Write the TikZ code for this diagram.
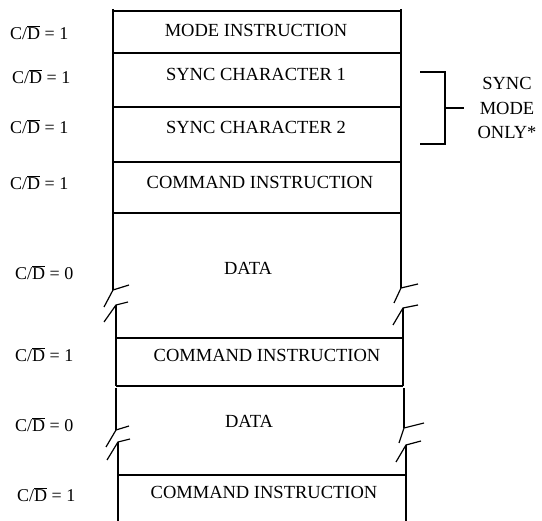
\documentclass[tikz,border=0pt]{standalone}
\usepackage{fontspec}
\setmainfont{Liberation Serif}
\usetikzlibrary{positioning}

\newcommand{\CD}[1]{C/$\overline{\mbox{D}}$ = #1}

\begin{document}
\begin{tikzpicture}[
    x=1pt, y=-1pt,
    frame/.style = {line width=1.9pt},
    brk/.style = {line width=1.2pt},
    field/.style = {inner sep=0pt, font=\fontsize{18.5}{21}\selectfont},
    side/.style = {anchor=west, inner sep=0pt, font=\fontsize{18}{21}\selectfont},
    note/.style = {align=center, inner sep=0pt, font=\fontsize{18.5}{24.5}\selectfont}
]
\useasboundingbox (0,0) rectangle (542,521);

% Upper block (mode, sync, command, data)
\draw[frame] (113,9) -- (113,290);
\draw[frame] (401,9) -- (401,288);
\foreach \y in {11,53,107,162,213}
    \draw[frame] (113,\y) -- (401,\y);

% Breaks in the first data field
\draw[brk] (129,285) -- (113,290) -- (104,307);
\draw[brk] (128,302) -- (116,305) -- (104,322);
\draw[brk] (418,284) -- (401,288) -- (394,303);
\draw[brk] (418,305) -- (403,308) -- (393,325);

% Middle command field
\draw[frame] (116,305) -- (116,386);
\draw[frame] (403,308) -- (403,386);
\draw[frame] (116,338) -- (403,338);
\draw[frame] (116,386) -- (403,386);

% Second data field
\draw[frame] (116,388) -- (116,430);
\draw[frame] (404,388) -- (404,428);
\draw[brk] (129,426) -- (116,430) -- (106,447);
\draw[brk] (130,439) -- (118,442) -- (107,460);
\draw[brk] (424,423) -- (404,428) -- (399,443);
\draw[brk] (421,441) -- (406,445) -- (396,462);

% Last command field
\draw[frame] (118,442) -- (118,521);
\draw[frame] (406,445) -- (406,521);
\draw[frame] (118,475) -- (406,475);

% Field texts
\node[field] (mode)  at (256,30)  {MODE INSTRUCTION};
\node[field] (sync1) at (256,74)  {SYNC CHARACTER 1};
\node[field] (sync2) at (256,127) {SYNC CHARACTER 2};
\node[field] (cmd1)  at (260,182) {COMMAND INSTRUCTION};
\node[field] (data1) at (248,268) {DATA};
\node[field] (cmd2)  at (267,355) {COMMAND INSTRUCTION};
\node[field] (data2) at (249,421) {DATA};
\node[field] (cmd3)  at (264,492) {COMMAND INSTRUCTION};

% C/D levels
\node[side] (cdmode)  at (10,33)  {\CD{1}};
\node[side] (cdsync1) at (12,77)  {\CD{1}};
\node[side] (cdsync2) at (10,127) {\CD{1}};
\node[side] (cdcmd1)  at (10,183) {\CD{1}};
\node[side] (cddata1) at (15,273) {\CD{0}};
\node[side] (cdcmd2)  at (15,355) {\CD{1}};
\node[side] (cddata2) at (15,425) {\CD{0}};
\node[side] (cdcmd3)  at (17,495) {\CD{1}};

% Sync mode bracket
\node[note] (only) at (507,108) {SYNC\\MODE\\ONLY*};
\coordinate (bt) at (420,72);
\coordinate (bb) at (420,144);
\coordinate (bm) at (445,108);
\draw[frame] (bt) -| (bm) |- (bb);
\draw[frame] (bm) -- (only.west -| 464,0);
\end{tikzpicture}
\end{document}
